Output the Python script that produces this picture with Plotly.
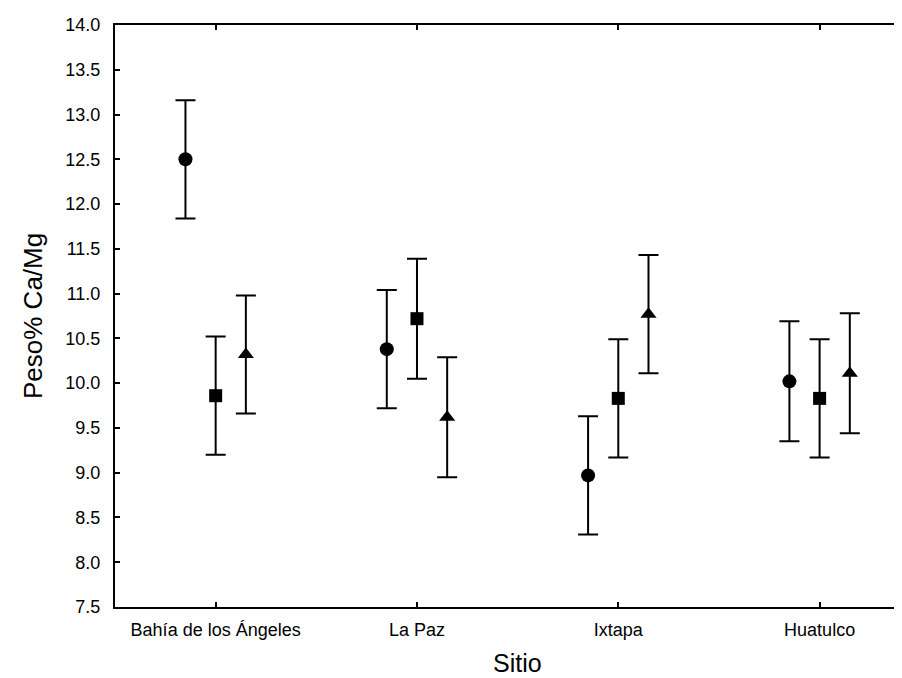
import plotly.graph_objects as go

# ---- data ----
sites = ["Bahía de los Ángeles", "La Paz", "Ixtapa", "Huatulco"]
circle_mean = [12.50, 10.38, 8.97, 10.02]
circle_err = [0.66, 0.66, 0.66, 0.67]
square_mean = [9.86, 10.72, 9.83, 9.83]
square_err = [0.66, 0.67, 0.66, 0.66]
triangle_mean = [10.32, 9.62, 10.77, 10.11]
triangle_err = [0.66, 0.67, 0.66, 0.67]
y_ticks = [7.5, 8.0, 8.5, 9.0, 9.5, 10.0, 10.5, 11.0, 11.5, 12.0, 12.5, 13.0, 13.5, 14.0]

# ---- style ----
FONT = "Liberation Sans, Arial, sans-serif"
offsets = {"circle": -0.15, "square": 0.0, "triangle-up": 0.15}
sizes = {"circle": 14, "square": 13, "triangle-up": 14}

fig = go.Figure()
pos = list(range(len(sites)))
for sym, mean, err in [("circle", circle_mean, circle_err),
                       ("square", square_mean, square_err),
                       ("triangle-up", triangle_mean, triangle_err)]:
    fig.add_trace(go.Scatter(
        x=[p + offsets[sym] for p in pos],
        y=mean,
        mode="markers",
        marker=dict(symbol=sym, size=sizes[sym], color="black"),
        error_y=dict(type="data", array=err, visible=True, color="black",
                     thickness=2, width=10),
        showlegend=False,
    ))

W, H = 902, 678
L, R, T, B = 107, 0, 17, 79
fig.update_layout(
    width=W, height=H,
    margin=dict(l=L, r=R, t=T, b=B),
    paper_bgcolor="white", plot_bgcolor="white",
    font=dict(family=FONT, color="black", size=18),
)
fig.update_xaxes(
    range=[-0.5, 3.449],
    tickmode="array", tickvals=pos, ticktext=sites,
    showgrid=False, zeroline=False,
    showline=True, linecolor="black", linewidth=2,
    mirror="ticks",
    ticks="inside", ticklen=5, tickwidth=1.5, tickcolor="black",
    tickfont=dict(size=18, family=FONT),
    ticklabelstandoff=5,
)
fig.update_yaxes(
    range=[7.5, 14.0],
    tickmode="array", tickvals=y_ticks, ticktext=[f"{v:.1f}" for v in y_ticks],
    showgrid=False, zeroline=False,
    showline=True, linecolor="black", linewidth=2,
    mirror=False,
    ticks="inside", ticklen=5, tickwidth=1.5, tickcolor="black",
    tickfont=dict(size=18, family=FONT),
    ticklabelstandoff=9,
)

plot_w = W - L - R
fig.add_annotation(text="Sitio", xref="paper", yref="paper",
                   x=(509 - L) / plot_w, y=0, yshift=-(655 - (H - B)),
                   xanchor="center", yanchor="middle", showarrow=False,
                   font=dict(size=25, family=FONT, color="black"))
fig.add_annotation(text="Peso% Ca/Mg", xref="paper", yref="paper",
                   x=0, y=0.5, xshift=-(L - 25), textangle=-90,
                   xanchor="center", yanchor="middle", showarrow=False,
                   font=dict(size=26, family=FONT, color="black"))

fig.write_html("out.html")
